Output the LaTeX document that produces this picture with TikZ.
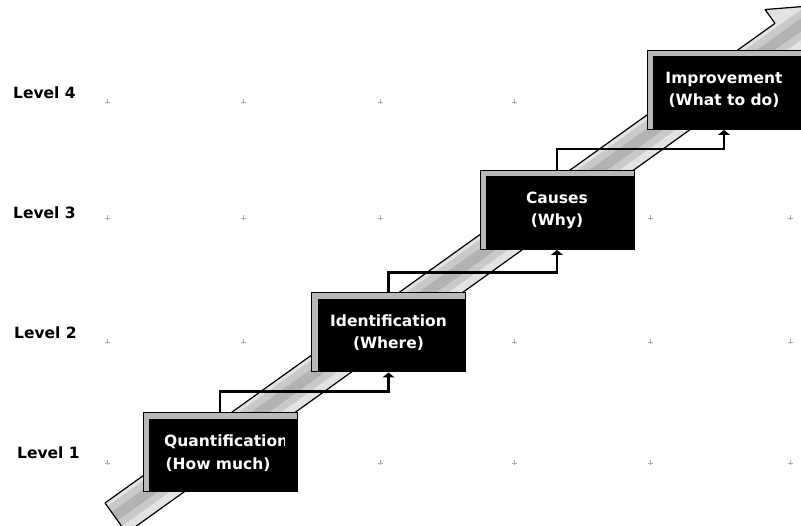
\documentclass[tikz,border=0pt]{standalone}
\usepackage{fontspec}
\setmainfont{DejaVu Sans}
\usetikzlibrary{arrows.meta}
\begin{document}
\begin{tikzpicture}[x=1pt,y=-1pt,
  box/.style={fill=black, draw=black, line width=1pt,
    minimum width=154pt, minimum height=79pt, inner sep=0pt,
    text=white, font=\fontsize{15.5}{22}\selectfont\bfseries, align=center,
    path picture={
      \fill[gray!55] (path picture bounding box.north west)
        rectangle ([xshift=6pt]path picture bounding box.south west);
      \fill[gray!55] (path picture bounding box.north west)
        rectangle ([yshift=-6pt]path picture bounding box.north east);
    }},
  boxtext/.style={text=white, font=\fontsize{15.5}{22}\selectfont\bfseries, inner sep=0pt},
  level/.style={font=\fontsize{15.5}{18}\selectfont\bfseries, anchor=west, inner sep=0pt},
  conn/.style={line width=2.5pt, line join=miter, -{Triangle[length=5pt,width=12pt]}},
  bandline/.style={draw=black, line width=1.2pt, line join=round},
  gridmark/.style={draw=gray!65, line width=0.8pt}]

\useasboundingbox (0,0) rectangle (801,526);
\clip (0,0) rectangle (801,526);

% faint grid marks
\foreach \gx in {107,243,380,514,650,790}
  \foreach \gy in {102,218,342,463}
    \draw[gridmark] (\gx-2.5,\gy) -- (\gx+2.5,\gy) (\gx,\gy-2.5) -- (\gx,\gy+2.5);

% level labels
\node[level] (l4) at (13,93)  {Level 4};
\node[level] (l3) at (13,213) {Level 3};
\node[level] (l2) at (14,333) {Level 2};
\node[level] (l1) at (17,453) {Level 1};

% the wide diagonal arrow behind the boxes
\begin{scope}[shift={(105,503)}, rotate=35.6]
  \begin{scope}
    \clip (0,0) -- (824,0) -- (824,-17) -- (883,18.5) -- (824,54) -- (824,37) -- (0,37) -- cycle;
    \fill[gray!22] (-5,-25) rectangle (900,4);
    \fill[gray!42] (-5,4) rectangle (900,11);
    \fill[gray!60] (-5,11) rectangle (900,22);
    \fill[gray!42] (-5,22) rectangle (900,29);
    \fill[gray!22] (-5,29) rectangle (900,39);
    \fill[gray!40] (-5,39) rectangle (900,60);
  \end{scope}
  \draw[bandline] (0,0) -- (824,0) -- (824,-17) -- (883,18.5) -- (824,54) -- (824,37) -- (0,37) -- cycle;
\end{scope}

% boxes
\node[box] (q) at (220,452.5) {};
\begin{scope}
  \clip (q.south west) rectangle ([xshift=-13pt]q.north east);
  \node[boxtext, anchor=west] (qt) at (164,442) {Quantification};
\end{scope}
\node[boxtext] (qh) at (218,465) {(How much)};

\node[box] (i) at (388.5,332.5) {Identification\\(Where)};
\node[box] (c) at (557,210) {Causes\\(Why)};
\node[box] (m) at (724,90) {Improvement\\(What to do)};

% step connectors
\draw[conn] (q.north) -- ++(0,-21) -| (i.south);
\draw[conn] (i.north) -- ++(0,-20) -| (c.south);
\draw[conn] (c.north) -- ++(0,-21) -| (m.south);
\end{tikzpicture}
\end{document}
